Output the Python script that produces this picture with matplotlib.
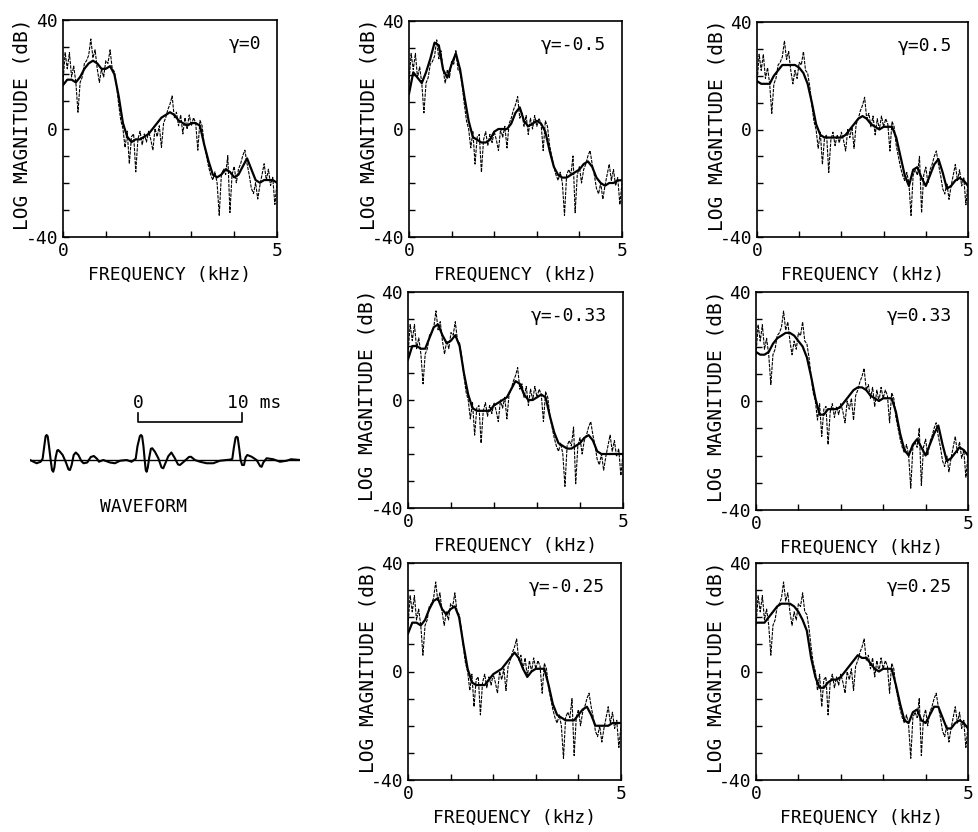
#載入numpy函式庫
import numpy as np
import matplotlib
matplotlib.use("Agg")
#載入matplotlib.pyplot
import matplotlib.pyplot as plt

#原始對數頻譜 (0-5 kHz, 每 0.05 kHz 一點)
freq_raw = np.linspace(0, 5, 101)
raw_db = [17, 28, 22, 28, 19, 23, 17, 6, 17, 19,
          24, 25, 27, 33, 26, 29, 22, 17, 22, 19,
          25, 24, 29, 22, 21, 16, 9, 3, 0, -7,
          -1, -13, -3, -2, -16, -4, -1, -6, -2, -5,
          -1, -4, -8, 0, -3, 1, -7, 2, 4, 7,
          9, 12, 4, 6, 1, 5, -2, 4, 0, 5,
          1, 4, 2, -8, 3, 1, -6, -10, -14, -17,
          -19, -16, -20, -32, -17, -15, -17, -10, -31, -17,
          -14, -20, -15, -13, -10, -8, -13, -17, -22, -24,
          -20, -26, -21, -17, -13, -19, -15, -21, -18, -28,
          -20]

#各個 gamma 的頻譜包絡 (每 0.1 kHz 一點)
freq_env = np.linspace(0, 5, 51)
env_g0 = [16, 18, 18, 17, 19, 22, 24, 25, 24, 22,
          22, 23, 20, 12, 2, -3, -5, -4, -4, -3,
          -2, 0, 2, 4, 5, 6, 5, 3, 2, 1,
          2, 2, 1, -6, -12, -17, -18, -17, -15, -16,
          -18, -17, -14, -11, -15, -19, -20, -19, -19, -19,
          -20]
env_gm05 = [13, 21, 19, 17, 21, 26, 32, 31, 22, 19,
            24, 28, 22, 12, 3, -3, -4, -5, -5, -4,
            -1, 0, 0, 0, 2, 6, 8, 3, 1, 2,
            3, 2, -1, -8, -14, -17, -18, -18, -17, -16,
            -15, -13, -12, -14, -18, -20, -21, -20, -20, -19,
            -19]
env_gp05 = [18, 17, 17, 17, 20, 22, 24, 24, 24, 24,
            23, 21, 17, 10, 2, -2, -3, -3, -3, -3,
            -3, -2, 0, 2, 4, 5, 4, 2, 1, 0,
            1, 1, 1, -3, -10, -17, -21, -15, -14, -18,
            -21, -17, -13, -11, -16, -22, -21, -19, -18, -19,
            -21]
env_gm033 = [15, 20, 20, 19, 19, 23, 27, 28, 24, 21,
             22, 24, 20, 10, 2, -3, -4, -4, -4, -4,
             -2, -1, 0, 1, 4, 7, 6, 2, 0, 0,
             1, 2, 1, -6, -12, -16, -17, -18, -18, -17,
             -16, -14, -13, -15, -19, -20, -20, -20, -20, -20,
             -20]
env_gp033 = [18, 17, 17, 18, 21, 23, 24, 25, 25, 24,
             22, 20, 16, 9, 1, -5, -5, -3, -3, -3,
             -2, 0, 2, 4, 5, 5, 4, 2, 1, 0,
             1, 1, 1, -4, -12, -18, -20, -16, -14, -17,
             -20, -16, -12, -9, -16, -22, -21, -19, -17, -18,
             -20]
env_gm025 = [14, 18, 18, 17, 19, 23, 26, 27, 23, 21,
             23, 24, 20, 10, 1, -4, -5, -5, -5, -3,
             -1, 0, 1, 3, 5, 7, 5, 1, -2, 0,
             1, 1, 1, -5, -12, -16, -17, -18, -18, -18,
             -16, -14, -13, -16, -20, -20, -20, -20, -19, -19,
             -19]
env_gp025 = [18, 18, 18, 20, 22, 24, 25, 25, 25, 24,
             22, 19, 15, 5, -2, -6, -6, -4, -3, -3,
             -2, 0, 2, 4, 6, 5, 5, 3, 1, 0,
             1, 1, 1, -5, -12, -18, -19, -15, -14, -18,
             -19, -16, -13, -13, -17, -21, -21, -19, -18, -19,
             -21]

gamma_labels = ["γ=0", "γ=-0.5", "γ=0.5", "γ=-0.33", "γ=0.33", "γ=-0.25", "γ=0.25"]
envelopes = [env_g0, env_gm05, env_gp05, env_gm033, env_gp033, env_gm025, env_gp025]

#語音波形 (時間 ms, 振幅)
wave_t = [-10.48, -9.84, -9.45, -9.26, -9.10, -8.97, -8.87, -8.77, -8.64, -8.48,
          -8.35, -8.23, -8.12, -8.00, -7.85, -7.75, -7.58, -7.32, -7.00, -6.75,
          -6.61, -6.45, -6.25, -6.05, -5.80, -5.50, -5.30, -4.94, -4.60, -4.30,
          -4.00, -3.80, -3.39, -2.74, -2.26, -1.77, -1.13, -0.65,
          -0.25, -0.08, 0.15, 0.26, 0.37, 0.50, 0.62, 0.72, 0.81, 0.92,
          1.06, 1.22, 1.35, 1.61, 1.94, 2.25, 2.42, 2.60, 2.90, 3.20,
          3.50, 3.85, 4.03, 4.40, 4.90, 5.10, 5.48, 5.97, 6.61, 7.26,
          7.90, 8.55, 8.95,
          9.10, 9.25, 9.42, 9.52, 9.62, 9.77, 9.90, 10.05, 10.23, 10.38,
          10.55, 10.97, 11.45, 11.80, 11.94, 12.10, 12.42, 13.06, 13.71, 14.35,
          14.78, 15.65]
wave_a = [0, -0.13, -0.07, 0.05, 0.55, 0.95, 1.0, 0.95, 0.55, 0.0,
          -0.4, -0.47, -0.3, 0.1, 0.38, 0.4, 0.33, 0.2, -0.1, -0.38,
          -0.4, -0.2, 0.2, 0.3, 0.2, -0.05, -0.13, -0.1, 0.12, 0.16,
          0.05, -0.07, 0, -0.1, -0.13, -0.03, 0, -0.07,
          0.05, 0.55, 0.95, 1.0, 0.95, 0.55, 0.0, -0.4, -0.47, -0.3,
          0.1, 0.45, 0.47, 0.33, 0.07, -0.3, -0.33, -0.15, 0.15, 0.3,
          0.1, -0.18, -0.2, -0.07, 0.12, 0.13, 0, -0.07, -0.13, -0.13,
          -0.03, 0, 0.02,
          0.05, 0.5, 0.9, 0.93, 0.9, 0.45, 0, -0.2, -0.2, 0.1,
          0.2, 0.13, 0, -0.25, -0.27, -0.1, 0.07, 0.03, -0.07, -0.03,
          0.03, 0]

#各子圖位置 (像素: 左, 上, 右, 下)
panel_px = [(63, 20, 277, 237), (409, 21, 622, 237), (757, 22, 968, 237),
            (408, 292, 623, 508), (756, 292, 968, 510),
            (408, 563, 621, 780), (756, 563, 968, 780)]

W, H = 979, 832
plt.rcParams["font.family"] = ["DejaVu Sans Mono", "DejaVu Sans"]
plt.rcParams["font.size"] = 13

fig = plt.figure(figsize=(W / 100, H / 100), dpi=100)

def px_axes(l, t, r, b):
    return fig.add_axes([l / W, 1 - b / H, (r - l) / W, (b - t) / H])

#繪製7個頻譜子圖
for (l, t, r, b), env, lab in zip(panel_px, envelopes, gamma_labels):
    ax = px_axes(l, t, r, b)
    ax.plot(freq_raw, raw_db, color="black", lw=0.8, linestyle=(0, (3, 1)))
    ax.plot(freq_env, env, color="black", lw=1.6)
    ax.set_xlim(0, 5)
    ax.set_ylim(-40, 40)
    ax.set_yticks(range(-40, 41, 10))
    ax.set_yticklabels(["-40", "", "", "", "0", "", "", "", "40"])
    ax.set_xticks(range(0, 6))
    ax.set_xticklabels(["0", "", "", "", "", "5"])
    ax.tick_params(direction="in", length=4, width=1, labelsize=13)
    for s in ax.spines.values():
        s.set_linewidth(1.2)
    ax.set_xlabel("FREQUENCY (kHz)", fontsize=13, labelpad=4)
    ax.set_ylabel("LOG MAGNITUDE (dB)", fontsize=14)
    ax.yaxis.set_label_coords(-0.145, 0.52)
    ax.text(0.925, 0.89, lab, transform=ax.transAxes, ha="right", va="center", fontsize=13)

#波形圖
axw = px_axes(30, 395, 300, 485)
axw.set_xlim(-10.48, 15.65)
axw.set_ylim(-1.0, 2.6)
axw.axis("off")
axw.axhline(0, color="black", lw=1)
axw.plot(wave_t, wave_a, color="black", lw=1.5)
axw.plot([0, 0, 10, 10], [1.88, 1.52, 1.52, 1.88], color="black", lw=1.2)
axw.text(0, 2.28, "0", ha="center", va="center", fontsize=13, clip_on=False)
axw.text(11.2, 2.28, "10 ms", ha="center", va="center", fontsize=13, clip_on=False)
axw.text(0.5, -1.88, "WAVEFORM", ha="center", va="center", fontsize=13, clip_on=False)

fig.savefig("out.png", dpi=100)
